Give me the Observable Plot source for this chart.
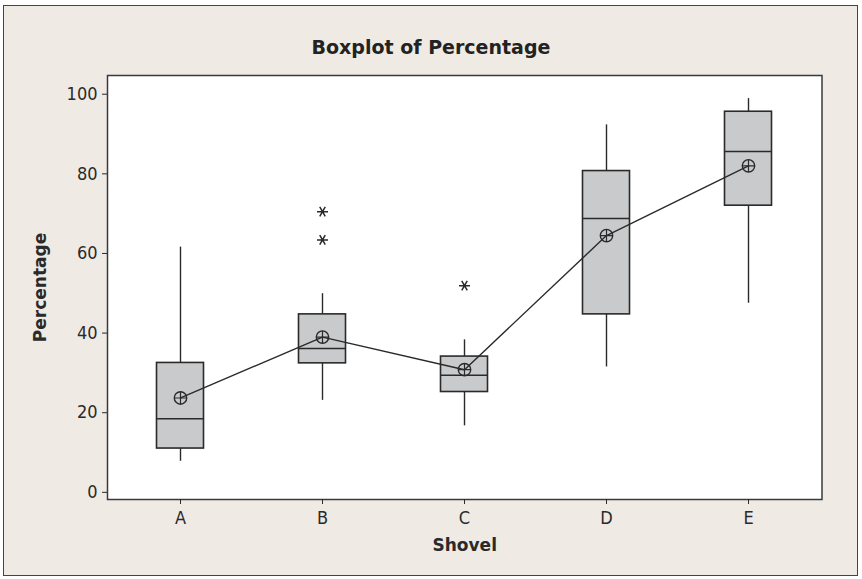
<!DOCTYPE html>
<html><head><meta charset="utf-8">
<script src="https://cdn.jsdelivr.net/npm/d3@7"></script>
<script src="https://cdn.jsdelivr.net/npm/@observablehq/plot@0.6"></script>
<style>
body{margin:0;background:#fff;}
#wrap{position:relative;width:862px;height:579px;overflow:hidden;background:#fff;}
#frame{position:absolute;left:3px;top:5px;width:853px;height:569px;border:1.5px solid #444;background:#efebe4;}
#title{position:absolute;left:0;width:862px;top:36px;text-align:center;font:bold 19px "DejaVu Sans";color:#222;line-height:22px;}
#chart{position:absolute;left:0;top:0;}
</style></head><body>
<div id="wrap"><div id="frame"></div><div id="title">Boxplot of Percentage</div><div id="chart"></div></div>
<script>
const shovels = ["A","B","C","D","E"];
const whiskerLow = [7.8, 23.1, 16.7, 31.5, 47.5];
const q1 = [11.0, 32.4, 25.2, 44.7, 72.0];
const median = [18.5, 36.1, 29.4, 68.8, 85.6];
const q3 = [32.5, 44.7, 34.1, 80.7, 95.6];
const whiskerHigh = [61.6, 49.9, 38.3, 92.3, 98.9];
const mean = [23.7, 39.0, 30.8, 64.5, 82.0];
const outlierShovel = ["B", "B", "C"];
const outlierValue = [70.5, 63.4, 51.9];
const yTicks = [0, 20, 40, 60, 80, 100];

const rows = shovels.map((s, i) => ({shovel: s, lo: whiskerLow[i], q1: q1[i], med: median[i], q3: q3[i], hi: whiskerHigh[i], mean: mean[i]}));
const outliers = outlierShovel.map((s, i) => ({shovel: s, v: outlierValue[i]}));

const ink = "#2a2a2a";
const inset = 47.5;
const chart = Plot.plot({
  width: 862, height: 579,
  marginTop: 75, marginBottom: 80, marginLeft: 107, marginRight: 40.5,
  style: {background: "transparent", fontFamily: "'DejaVu Sans Condensed', 'DejaVu Sans', sans-serif", fontSize: "18px", color: ink},
  x: {type: "band", domain: shovels, padding: 0},
  y: {domain: [-1.8, 104.7]},
  marks: [
    Plot.frame({fill: "white", stroke: "#3a3a3a", strokeWidth: 1.5}),
    Plot.ruleX(rows, {x: "shovel", y1: "q3", y2: "hi", stroke: ink, strokeWidth: 1.4}),
    Plot.ruleX(rows, {x: "shovel", y1: "lo", y2: "q1", stroke: ink, strokeWidth: 1.4}),
    Plot.barY(rows, {x: "shovel", y1: "q1", y2: "q3", fill: "#c9cacc", stroke: ink, strokeWidth: 1.6, insetLeft: inset, insetRight: inset}),
    Plot.tickY(rows, {x: "shovel", y: "med", stroke: ink, strokeWidth: 1.5, insetLeft: inset, insetRight: inset}),
    Plot.line(rows, {x: "shovel", y: "mean", stroke: ink, strokeWidth: 1.4}),
    Plot.dot(rows, {x: "shovel", y: "mean", symbol: "circle", r: 6.2, stroke: ink, fill: "none", strokeWidth: 1.4}),
    Plot.dot(rows, {x: "shovel", y: "mean", symbol: "plus", r: 4.0, stroke: ink, strokeWidth: 1.2}),
    Plot.dot(outliers, {x: "shovel", y: "v", symbol: "asterisk", r: 5.2, rotate: 90, stroke: ink, strokeWidth: 1.5}),
    Plot.axisY(yTicks, {tickSize: 5, tickPadding: 5, label: null, stroke: ink}),
    Plot.axisX({tickSize: 5, tickPadding: 7, label: null, stroke: ink}),
    Plot.text(["Shovel"], {text: d => d, frameAnchor: "bottom", dy: 51, fontWeight: "bold", fontSize: 17, fontFamily: "DejaVu Sans", fill: ink}),
    Plot.text(["Percentage"], {text: d => d, frameAnchor: "left", dx: -67, rotate: -90, textAnchor: "middle", lineAnchor: "middle", fontWeight: "bold", fontSize: 17, fontFamily: "DejaVu Sans", fill: ink})
  ]
});
document.getElementById("chart").append(chart);
</script>
</body></html>
